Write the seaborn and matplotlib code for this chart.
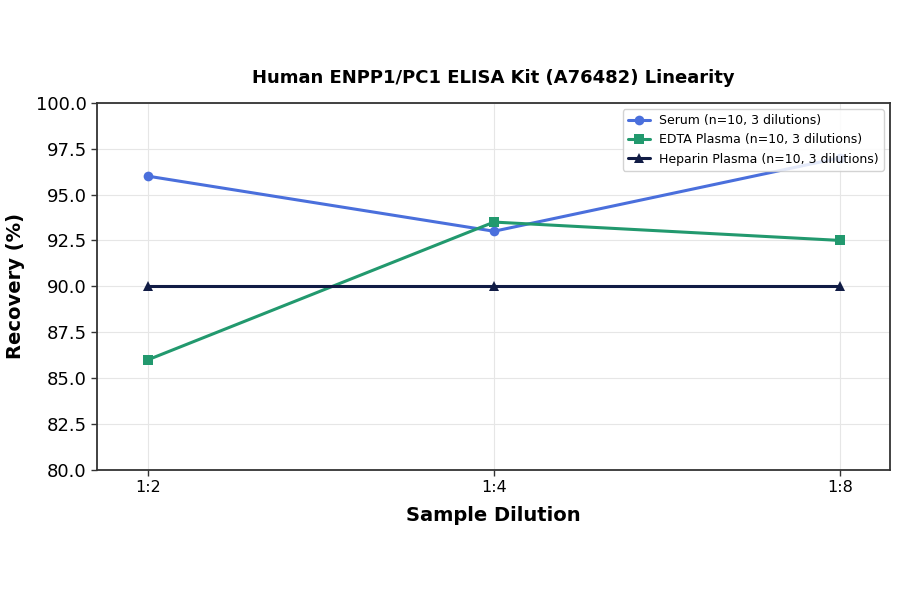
import matplotlib
matplotlib.use("Agg")
import matplotlib.pyplot as plt
import seaborn as sns
import pandas as pd

dilutions = ["1:2", "1:4", "1:8"]
serum = [96.0, 93.0, 97.0]
edta = [86.0, 93.5, 92.5]
heparin = [90.0, 90.0, 90.0]
series_names = ["Serum (n=10, 3 dilutions)", "EDTA Plasma (n=10, 3 dilutions)", "Heparin Plasma (n=10, 3 dilutions)"]

rows = []
for name, vals in zip(series_names, [serum, edta, heparin]):
    for d, v in zip(dilutions, vals):
        rows.append({"Dilution": d, "Recovery": v, "Series": name})
df = pd.DataFrame(rows)

sns.set_theme(style="whitegrid")
plt.rcParams['font.family'] = ['DejaVu Sans']
plt.rcParams['text.color'] = 'black'
plt.rcParams['axes.labelcolor'] = 'black'

fig, ax = plt.subplots(figsize=(9, 5.94), dpi=100)
fig.subplots_adjust(left=0.108, right=0.989, top=0.827, bottom=0.209)

palette = {series_names[0]: "#4A6FDC", series_names[1]: "#22996E", series_names[2]: "#111C45"}
markers = {series_names[0]: "o", series_names[1]: "s", series_names[2]: "^"}
for name in series_names:
    sub = df[df["Series"] == name]
    sns.lineplot(data=sub, x="Dilution", y="Recovery", ax=ax, color=palette[name],
                 marker=markers[name], markersize=7, linewidth=2.2, label=name,
                 markeredgewidth=0, sort=False)

ax.set_ylim(80, 100)
ax.set_xlim(-0.147, 2.145)
yt = [80, 82.5, 85, 87.5, 90, 92.5, 95, 97.5, 100]
ax.set_yticks(yt)
ax.set_yticklabels([f"{v:.1f}" for v in yt])
ax.tick_params(axis='both', labelsize=13, colors='#333333', labelcolor='black', length=4, width=1,
               bottom=True, left=True)
ax.tick_params(axis='x', labelsize=11.5)
ax.grid(True, color='#e6e6e6', linewidth=0.8)
for s in ax.spines.values():
    s.set_visible(True)
    s.set_color('#333333')
    s.set_linewidth(1.3)

ax.set_title("Human ENPP1/PC1 ELISA Kit (A76482) Linearity", fontsize=13, fontweight='bold', pad=14, color='black')
ax.set_xlabel("Sample Dilution", fontsize=14, fontweight='bold', labelpad=8)
ax.set_ylabel("Recovery (%)", fontsize=14, fontweight='bold', labelpad=8)
leg = ax.legend(loc='upper right', fontsize=9, frameon=True, framealpha=0.85, borderaxespad=0.5,
                handlelength=1.8, handletextpad=0.7)
for t in leg.get_texts():
    t.set_color('black')

fig.savefig("out.png", dpi=100)
